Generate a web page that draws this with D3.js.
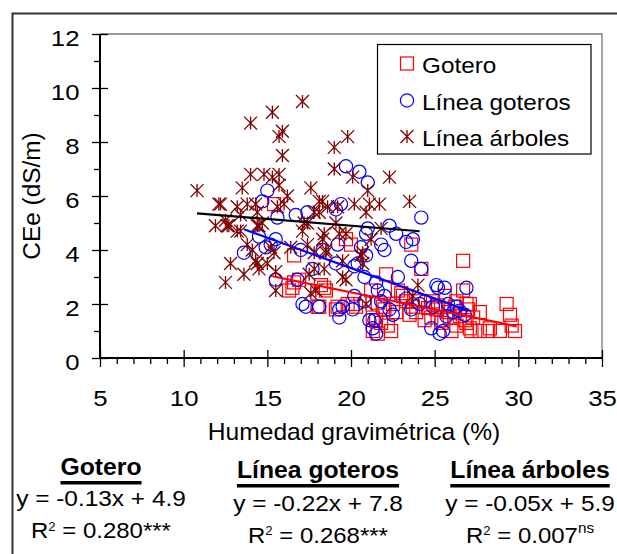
<!DOCTYPE html>
<html><head><meta charset="utf-8">
<script src="https://cdn.jsdelivr.net/npm/d3@7"></script>
<style>
body{margin:0;background:#fff}
svg{display:block}
text{font-family:"Liberation Sans",Arial,Helvetica,sans-serif;fill:#000}
</style>
</head><body>
<svg id="chart" width="617" height="554"></svg>
<script>
// ---------- data ----------
const xTicks = [5, 10, 15, 20, 25, 30, 35];
const yTicks = [0, 2, 4, 6, 8, 10, 12];
const xMinorTicks = [6,7,8,9,11,12,13,14,16,17,18,19,21,22,23,24,26,27,28,29,31,32,33,34];
const yMinorTicks = [1, 3, 5, 7, 9, 11];
const seriesNames = ["Gotero", "Línea goteros", "Línea árboles"];
const seriesColors = ["#FF0000", "#0000FF", "#800000"];
const lineColors = ["#FF0000", "#0000FF", "#000000"];

const goteroX = [15.4,16.6,16.6,16.5,16.9,16.3,18.1,18.4,18.5,18.2,18.0,19.1,19.2,19.8,19.7,20.0,20.1,20.3,21.2,21.3,21.3,21.6,21.5,22.1,22.2,22.4,22.0,21.9,22.7,22.5,23.0,23.1,23.3,23.6,24.2,23.9,23.7,24.4,24.9,25.1,25.4,25.6,26.0,26.3,26.7,26.7,26.9,27.0,26.8,27.1,27.3,27.2,27.7,28.2,28.3,28.9,29.3,29.5,29.6,29.8,24.0,24.6,25.2,25.8,26.2,26.5,21.8,23.5,24.8,25.9,26.9,27.1,22.8,21.6,27.7,26.3,25.4];
const goteroY = [5.7,3.8,2.8,2.6,2.9,2.5,1.9,2.6,2.5,2.7,1.9,1.8,1.9,2.0,4.4,4.2,2.0,1.9,2.5,1.5,1.0,0.9,1.4,3.1,1.2,1.0,1.8,1.9,1.7,2.0,2.4,2.3,2.1,4.2,3.3,1.7,1.9,1.4,2.1,1.8,1.3,2.3,1.0,1.2,3.6,2.5,2.0,1.8,1.4,1.1,1.5,1.0,1.7,1.0,1.1,1.0,2.0,1.6,1.2,1.0,2.1,1.85,1.95,1.7,1.9,1.55,1.3,1.6,1.5,1.5,1.3,2.0,2.5,2.05,1.0,2.1,1.4];

const lineaGoterosX = [13.6,14.7,15.0,15.6,16.7,17.4,19.1,19.4,19.7,20.5,21.0,21.0,20.9,22.3,22.7,23.3,23.7,21.8,22.0,23.6,24.2,24.2,22.8,21.5,21.6,25.1,25.6,26.9,24.8,25.3,25.5,21.4,21.5,21.3,19.3,19.3,18.1,17.1,17.3,16.8,15.5,17.7,18.3,19.1,19.2,20.2,20.4,20.6,20.9,20.8,20.2,19.5,20.1,20.8,21.8,22.3,22.5,23.3,23.6,24.1,24.4,24.9,25.8,26.3,26.5,26.8,26.1,25.7,14.9,15.2,15.5,14.5,17.0,25.2,21.1,22.0];
const lineaGoterosY = [3.9,5.8,6.2,5.2,5.3,5.4,5.5,5.7,7.1,6.9,6.5,4.8,4.6,4.9,4.6,4.3,4.4,4.2,4.0,3.6,3.3,5.2,3.0,2.8,2.5,2.7,2.6,2.6,1.1,0.9,1.0,1.4,0.9,1.1,1.5,1.8,1.9,2.0,1.9,2.9,2.9,3.3,4.0,3.5,4.2,3.4,3.5,4.1,3.8,3.0,2.3,1.9,1.8,2.1,2.1,1.8,1.6,2.2,1.8,2.0,2.1,1.9,2.0,1.9,1.75,1.6,1.7,1.55,4.1,4.2,4.4,4.5,4.0,2.6,1.4,2.3];

const lineaArbolesX = [10.8,12.1,11.9,12.5,12.6,13.2,13.5,13.4,13.4,14.0,14.0,14.4,14.1,13.6,12.8,12.5,14.5,14.8,15.3,15.3,15.7,15.9,15.9,15.7,15.6,16.0,15.0,15.5,15.5,15.2,17.1,17.6,17.8,18.1,18.3,18.1,17.4,17.1,17.4,17.8,18.3,17.8,17.6,18.5,19.0,19.0,19.8,19.2,19.7,19.5,19.7,20.1,20.2,21.0,21.1,20.9,21.7,21.2,20.7,20.7,20.9,22.3,21.8,23.5,24.0,23.7,16.4,13.8,14.3,14.5,12.2,13.8,14.3,12.7,13.2,14.4,14.7,14.4,15.4,17.2,17.5,18.4,18.5,18.4,19.5,20.6,19.1,15.7,16.2,18.6,19.3,17.9];
const lineaArbolesY = [6.2,5.7,4.9,5.1,4.9,5.6,6.3,5.3,4.7,6.8,8.7,5.4,4.0,3.1,3.5,2.8,4.9,6.8,9.1,6.7,8.2,8.4,7.5,6.4,5.6,5.7,3.5,3.2,2.5,4.1,9.5,6.3,5.4,5.8,5.8,5.4,5.0,4.7,4.2,3.9,4.4,3.3,2.4,3.9,7.8,7.0,8.2,5.6,4.6,3.6,2.9,6.7,5.7,6.2,5.7,5.4,5.7,4.4,3.9,3.5,2.0,6.7,4.8,5.8,2.7,2.3,4.1,4.2,3.6,3.3,5.7,5.7,5.7,4.9,4.7,4.9,5.0,3.5,3.9,5.0,3.1,4.6,4.0,3.3,3.0,3.8,5.0,6.8,6.0,5.6,4.6,2.5];

// fitted trend lines
const fitSlopes = [-0.127, -0.225, -0.05];
const fitIntercepts = [4.97, 7.83, 5.9];
const fitXStart = [15.3, 13.6, 10.8];
const fitXEnd = [29.9, 27.0, 24.1];

const eqTexts = ["y = -0.13x + 4.9", "y = -0.22x + 7.8", "y = -0.05x + 5.9"];
const r2Values = ["0.280", "0.268", "0.007"];
const r2Marks = ["***", "***", "ns"];

const xTitle = "Humedad gravimétrica (%)";
const yTitle = "CEe (dS/m)";

// ---------- layout ----------
const svg = d3.select("#chart");
const x = d3.scaleLinear().domain([5, 35]).range([100, 602]);
const y = d3.scaleLinear().domain([0, 12]).range([358, 34]);

function stext(g, px, py, str, size, sx, anchor, weight) {
  return g.append("text")
    .attr("transform", `translate(${px},${py}) scale(${sx},1)`)
    .attr("text-anchor", anchor)
    .style("font-size", size + "px")
    .style("font-weight", weight || "normal")
    .text(str);
}

// outer border
svg.append("rect").attr("x", 12.5).attr("y", 13.5).attr("width", 650).attr("height", 600)
  .attr("fill", "none").attr("stroke", "#333").attr("stroke-width", 2);

// plot frame (top and right)
svg.append("path")
  .attr("d", `M${x(5)},${y(12)}H${x(35)}V${y(0)}`)
  .attr("fill", "none").attr("stroke", "#777").attr("stroke-width", 1.3);

// axes
function styleAxis(g, w) {
  g.selectAll("line").attr("stroke", "#000").attr("stroke-width", w);
  g.select(".domain").remove();
}
const gYmaj = svg.append("g").attr("transform", `translate(${x(5)},0)`)
  .call(d3.axisLeft(y).tickValues(yTicks).tickSize(8).tickSizeOuter(0).tickFormat(d3.format("d")));
styleAxis(gYmaj, 1.3);
gYmaj.selectAll("text")
  .attr("x", null).attr("dy", null)
  .attr("transform", "translate(-20.5,11) scale(1.12,1)")
  .attr("text-anchor", "end")
  .style("font-size", "23px").attr("font-family", null).attr("fill", "#000");
const gYin = svg.append("g").attr("transform", `translate(${x(5)},0)`)
  .call(d3.axisRight(y).tickValues(yTicks).tickSize(8).tickSizeOuter(0).tickFormat(""));
styleAxis(gYin, 1.3);
const gYmin = svg.append("g").attr("transform", `translate(${x(5)},0)`)
  .call(d3.axisLeft(y).tickValues(yMinorTicks).tickSize(6).tickSizeOuter(0).tickFormat(""));
styleAxis(gYmin, 1.3);

const gXmaj = svg.append("g").attr("transform", `translate(0,${y(0)})`)
  .call(d3.axisBottom(x).tickValues(xTicks).tickSize(9).tickSizeOuter(0).tickFormat(d3.format("d")));
styleAxis(gXmaj, 1.3);
gXmaj.selectAll("text")
  .attr("y", null).attr("dy", null)
  .attr("transform", "translate(0,48) scale(1.12,1)")
  .attr("text-anchor", "middle")
  .style("font-size", "23px").attr("font-family", null).attr("fill", "#000");
const gXin = svg.append("g").attr("transform", `translate(0,${y(0)})`)
  .call(d3.axisTop(x).tickValues(xTicks).tickSize(8).tickSizeOuter(0).tickFormat(""));
styleAxis(gXin, 1.3);
const gXmin = svg.append("g").attr("transform", `translate(0,${y(0)})`)
  .call(d3.axisBottom(x).tickValues(xMinorTicks).tickSize(6).tickSizeOuter(0).tickFormat(""));
styleAxis(gXmin, 1.3);

// axis lines
svg.append("line").attr("x1", x(5)).attr("x2", x(5)).attr("y1", y(12)).attr("y2", y(0))
  .attr("stroke", "#000").attr("stroke-width", 2);
svg.append("line").attr("x1", x(5)).attr("x2", x(35)).attr("y1", y(0)).attr("y2", y(0))
  .attr("stroke", "#000").attr("stroke-width", 2);

// axis titles
stext(svg, 354, 440, xTitle, 23, 1.07, "middle");
svg.append("text")
  .attr("transform", `translate(40,${(y(0) + y(12)) / 2}) rotate(-90) scale(1.06,1)`)
  .attr("text-anchor", "middle").style("font-size", "23px").text(yTitle);

// markers
const S = 6.5;
function drawMarker(g, kind, cx, cy, color) {
  if (kind === 0) {
    g.append("rect").attr("x", cx - S).attr("y", cy - S).attr("width", 2 * S).attr("height", 2 * S)
      .attr("fill", "none").attr("stroke", color).attr("stroke-width", 1.2);
  } else if (kind === 1) {
    g.append("circle").attr("cx", cx).attr("cy", cy).attr("r", 6.6)
      .attr("fill", "none").attr("stroke", color).attr("stroke-width", 1.2);
  } else {
    g.append("path")
      .attr("d", `M${cx - S},${cy - S}L${cx + S},${cy + S}M${cx - S},${cy + S}L${cx + S},${cy - S}M${cx},${cy - S}L${cx},${cy + S}`)
      .attr("fill", "none").attr("stroke", color).attr("stroke-width", 1.3);
  }
}
const seriesXs = [goteroX, lineaGoterosX, lineaArbolesX];
const seriesYs = [goteroY, lineaGoterosY, lineaArbolesY];
const gPts = svg.append("g");
seriesXs.forEach((xs, k) => {
  const ys = seriesYs[k];
  const n = Math.min(xs.length, ys.length);
  for (let i = 0; i < n; i++) drawMarker(gPts, k, x(xs[i]), y(ys[i]), seriesColors[k]);
});

// trend lines
const line = d3.line().x(d => x(d[0])).y(d => y(d[1]));
fitSlopes.forEach((m, k) => {
  const pts = [fitXStart[k], fitXEnd[k]].map(v => [v, m * v + fitIntercepts[k]]);
  svg.append("path").attr("d", line(pts)).attr("fill", "none")
    .attr("stroke", lineColors[k]).attr("stroke-width", 2.2);
});

// legend
const lg = svg.append("g");
lg.append("rect").attr("x", 377.5).attr("y", 44.5).attr("width", 213.5).attr("height", 109.5)
  .attr("fill", "#fff").attr("stroke", "#000").attr("stroke-width", 1.2);
const legBase = [73, 110, 146];
seriesNames.forEach((nm, k) => {
  drawMarker(lg, k, 407, legBase[k] - 9.5, seriesColors[k]);
  stext(lg, 422, legBase[k], nm, 22.5, 1.08, "start");
});

// bottom statistics
const colX = [101, 318, 530];
const titleBase = [475, 478, 478];
const eqBase = [506, 511, 511];
const r2Base = [538, 542.5, 542.5];
seriesNames.forEach((nm, k) => {
  const t = stext(svg, colX[k], titleBase[k], nm, 24.5, 1.01, "middle", "bold");
  const w = t.node().getComputedTextLength() * 1.01;
  svg.append("rect").attr("x", colX[k] - w / 2).attr("y", titleBase[k] + 6)
    .attr("width", w).attr("height", 3.5).attr("fill", "#000");
  stext(svg, colX[k], eqBase[k], eqTexts[k], 22, 1.11, "middle");
  const r = svg.append("text")
    .attr("transform", `translate(${colX[k]},${r2Base[k]}) scale(1.09,1)`)
    .attr("text-anchor", "middle").style("font-size", "22px");
  r.append("tspan").text("R");
  r.append("tspan").attr("dy", -7.5).style("font-size", "12px").text("2");
  r.append("tspan").attr("dy", 7.5).text(" = " + r2Values[k]);
  if (r2Marks[k] === "ns") {
    r.append("tspan").attr("dy", -10).style("font-size", "14px").text(r2Marks[k]);
  } else {
    r.append("tspan").text(r2Marks[k]);
  }
});
</script>
</body></html>
